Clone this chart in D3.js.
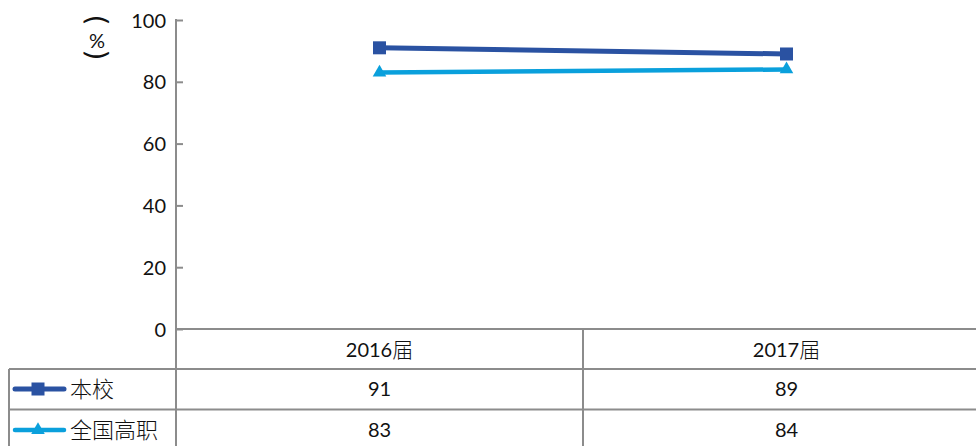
<!DOCTYPE html>
<html><head><meta charset="utf-8">
<script src="https://cdn.jsdelivr.net/npm/d3@7"></script>
<style>body{margin:0;background:#fff}svg{display:block}</style>
</head><body>
<script>
const categories = ["2016届", "2017届"];
const seriesNames = ["本校", "全国高职"];
const school = [91, 89];
const national = [83, 84];
const yTicks = [0, 20, 40, 60, 80, 100];

const W = 976, H = 446;
const svg = d3.select("body").append("svg").attr("width", W).attr("height", H);
const gray = "#8c8c8c";
const numFont = "Lato, 'Open Sans', sans-serif";
const cjkFont = "'Noto Sans CJK SC', sans-serif";

const x = d3.scaleBand().domain(categories).range([176, 990]);
const y = d3.scaleLinear().domain([0, 100]).range([329, 20]);

// y axis
const yAxis = d3.axisLeft(y).tickValues(yTicks).tickSize(0).tickPadding(0);
const ga = svg.append("g").attr("transform", "translate(176,0)").call(yAxis);
ga.select(".domain").remove();
ga.selectAll("text").attr("x", -10).attr("font-family", numFont).attr("font-size", 20).attr("fill", "#111").attr("dy", "0.35em");
ga.selectAll(".tick").append("line").attr("x1", 0).attr("x2", 7).attr("stroke", gray).attr("stroke-width", 2);
svg.append("line").attr("x1", 176).attr("x2", 176).attr("y1", 19).attr("y2", H).attr("stroke", gray).attr("stroke-width", 2);

// y axis title (vertical)
svg.append("text").attr("transform", "translate(97,20) rotate(90)").attr("text-anchor", "middle").attr("dy", "0.35em")
  .attr("font-family", "'DejaVu Sans', sans-serif").attr("font-size", 28).attr("fill", "#111").text("(");
svg.append("text").attr("x", 97).attr("y", 41).attr("text-anchor", "middle").attr("dy", "0.35em")
  .attr("font-family", numFont).attr("font-size", 20).attr("fill", "#111").text("%");
svg.append("text").attr("transform", "translate(97,55) rotate(90)").attr("text-anchor", "middle").attr("dy", "0.35em")
  .attr("font-family", "'DejaVu Sans', sans-serif").attr("font-size", 28).attr("fill", "#111").text(")");

// table
svg.append("line").attr("x1", 176).attr("x2", W).attr("y1", 329).attr("y2", 329).attr("stroke", gray).attr("stroke-width", 2);
[369, 409.5].forEach(v => svg.append("line").attr("x1", 9).attr("x2", W).attr("y1", v).attr("y2", v).attr("stroke", gray).attr("stroke-width", 2));
svg.append("line").attr("x1", 9).attr("x2", 9).attr("y1", 369).attr("y2", H).attr("stroke", gray).attr("stroke-width", 2);
svg.append("line").attr("x1", x("2017届")).attr("x2", x("2017届")).attr("y1", 329).attr("y2", H).attr("stroke", gray).attr("stroke-width", 2);

// header labels
categories.forEach(c => {
  const t = svg.append("text").attr("x", x(c) + x.bandwidth() / 2).attr("y", 350).attr("dy", "0.35em")
    .attr("text-anchor", "middle").attr("font-family", numFont).attr("font-size", 20).attr("fill", "#111");
  t.append("tspan").text(c.replace("届", ""));
  t.append("tspan").attr("font-family", cjkFont).attr("font-weight", 300).attr("font-size", 21).text("届");
});

const series = [
  { name: seriesNames[0], values: school, color: "#2a52a2", marker: "square", rowMid: 389 },
  { name: seriesNames[1], values: national, color: "#0aa0dc", marker: "triangle", rowMid: 430 }
];

const lineGen = d3.line().x((d, i) => x(categories[i]) + x.bandwidth() / 2).y(d => y(d));

function drawMarker(g, type, cx, cy, color) {
  if (type === "square") {
    g.append("rect").attr("x", cx - 6.5).attr("y", cy - 6.5).attr("width", 13).attr("height", 13).attr("fill", color);
  } else {
    g.append("path").attr("d", d3.symbol().type(d3.symbolTriangle).size(80)()).attr("transform", `translate(${cx},${cy})`).attr("fill", color);
  }
}

series.forEach(s => {
  svg.append("path").datum(s.values).attr("d", lineGen).attr("fill", "none").attr("stroke", s.color).attr("stroke-width", s.marker === "square" ? 5 : 4.5);
  const g = svg.append("g");
  s.values.forEach((v, i) => drawMarker(g, s.marker, x(categories[i]) + x.bandwidth() / 2, y(v), s.color));
  svg.append("line").attr("x1", 15).attr("x2", 64).attr("y1", s.rowMid).attr("y2", s.rowMid).attr("stroke", s.color).attr("stroke-width", s.marker === "square" ? 5 : 4.5).attr("stroke-linecap", "round");
  drawMarker(svg, s.marker, 38, s.rowMid, s.color);
  svg.append("text").attr("x", 70).attr("y", s.rowMid).attr("dy", "0.36em").attr("font-family", cjkFont).attr("font-weight", 300)
    .attr("font-size", 22).attr("fill", "#111").text(s.name);
  s.values.forEach((v, i) => {
    svg.append("text").attr("x", x(categories[i]) + x.bandwidth() / 2).attr("y", s.rowMid).attr("dy", "0.35em")
      .attr("text-anchor", "middle").attr("font-family", numFont).attr("font-size", 20).attr("fill", "#111").text(v);
  });
});
</script>
</body></html>
